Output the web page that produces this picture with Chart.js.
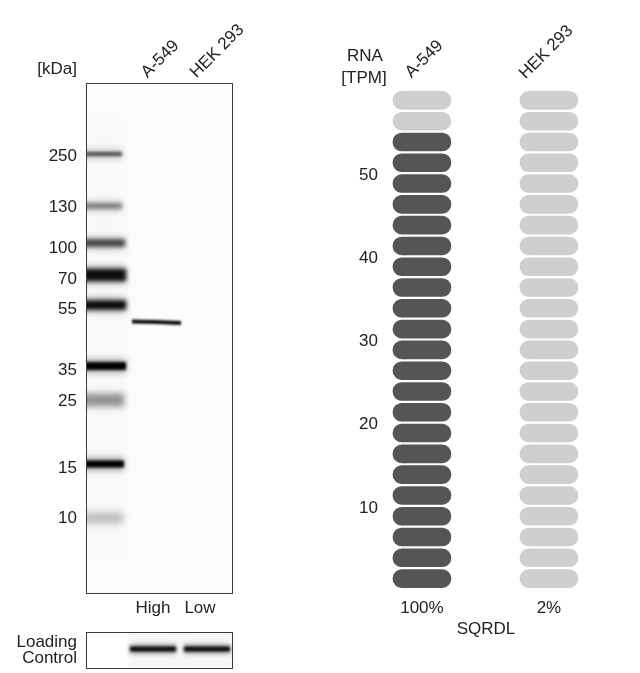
<!DOCTYPE html>
<html>
<head>
<meta charset="utf-8">
<style>
  body { margin: 0; background: #fff; }
  #page { position: relative; width: 640px; height: 673px; overflow: hidden; font: 17px "Liberation Sans", Arial, sans-serif; color: #222; }
  #page canvas { position: absolute; }
  .label { position: absolute; white-space: nowrap; transform: translate(-50%, -50%); }
  .slanted { transform: translate(-50%, -50%) rotate(-45deg); }
  .right { transform: translate(-100%, -50%); }
</style>
</head>
<body>
<div id="page">
  <canvas id="blot" width="240" height="630" style="left:0;top:0"></canvas>
  <canvas id="loading" width="240" height="40" style="left:0;top:630px"></canvas>
  <canvas id="rna" width="310" height="645" style="left:330px;top:0"></canvas>
</div>
<script src="https://cdn.jsdelivr.net/npm/chart.js@4"></script>
<script>
// western blot: positions are migration distance from the top of the membrane
const ladderKda = [250, 130, 100, 70, 55, 35, 25, 15, 10];
const ladderLabelPos = [72, 123, 164, 195, 225, 286, 317, 384, 434];
const ladderBandPos = [71, 123, 160, 192, 222, 283, 317, 381, 435];
const ladderSignal = [0.62, 0.48, 0.68, 0.92, 0.95, 1, 0.36, 1, 0.18];
const ladderBandEnd = [36, 36, 39, 40, 40, 40, 38, 38, 37];
const sampleBandX = [46, 70, 95];
const sampleBandPos = [238.5, 239, 240];
const laneNames = ['High', 'Low'];
const lanePos = [67, 114];
const loadingBandX = [[44, 90], [98, 144]];

// RNA panel
const cellLines = ['A-549', 'HEK 293'];
const rnaTpm = [55, 1];
const rnaPercent = ['100%', '2%'];
const rnaMaxTpm = 60;
const tpmPerPill = 2.5;
const geneName = 'SQRDL';

const ink = '#222';
const font = { family: '"Liberation Sans", Arial, sans-serif', size: 17 };
const thickness = [4, 5, 7, 12, 9, 8, 11, 7, 10];
const blur = [1.8, 2, 2, 2.2, 2, 1.8, 3, 1.8, 3];

function label(text, x, y, cls) {
  const el = document.createElement('div');
  el.className = 'label ' + (cls || '');
  el.textContent = text;
  el.style.left = x + 'px';
  el.style.top = y + 'px';
  document.getElementById('page').appendChild(el);
}

// soft bands and a thin frame round the membrane
const membrane = {
  id: 'membrane',
  beforeDraw(chart) {
    const a = chart.chartArea;
    chart.ctx.fillStyle = chart.options.plugins.membrane.fill;
    chart.ctx.fillRect(a.left, a.top, a.width, a.height);
  },
  beforeDatasetDraw(chart, args) {
    chart.ctx.save();
    chart.ctx.filter = 'blur(' + chart.data.datasets[args.index].blur + 'px)';
  },
  afterDatasetDraw(chart) {
    chart.ctx.restore();
  },
  afterDraw(chart) {
    const a = chart.chartArea, ctx = chart.ctx;
    ctx.strokeStyle = '#3a3a3a';
    ctx.lineWidth = 1;
    ctx.strokeRect(a.left + 0.5, a.top + 0.5, a.width, a.height);
  }
};

function band(points, signal, width, soft) {
  return {
    data: points,
    showLine: true,
    pointRadius: 0,
    borderColor: 'rgba(0,0,0,' + signal + ')',
    borderWidth: width,
    borderCapStyle: 'butt',
    blur: soft
  };
}

const blotBands = [band([{ x: 20, y: 30 }, { x: 20, y: 480 }], 0.015, 42, 9)];
ladderBandPos.forEach((pos, i) => {
  const points = [{ x: -6, y: pos }, { x: ladderBandEnd[i], y: pos }];
  blotBands.push(band(points, ladderSignal[i] * 0.3, thickness[i] + 6, 3));
  blotBands.push(band(points, ladderSignal[i], thickness[i], blur[i]));
});
blotBands.push(band(sampleBandX.map((x, i) => ({ x: x, y: sampleBandPos[i] })), 0.95, 4, 1.2));

new Chart(document.getElementById('blot'), {
  type: 'scatter',
  data: { datasets: blotBands },
  plugins: [membrane],
  options: {
    responsive: false,
    animation: false,
    layout: { padding: { top: 83, right: 8 } },
    plugins: { legend: { display: false }, tooltip: { enabled: false }, membrane: { fill: '#fcfcfc' } },
    scales: {
      x: {
        min: 0, max: 146,
        grid: { display: false, drawTicks: false },
        border: { display: false },
        afterBuildTicks: axis => { axis.ticks = lanePos.map(v => ({ value: v })); },
        afterFit: axis => { axis.height = 37; },
        ticks: {
          autoSkip: false, maxRotation: 0, padding: 5, color: ink, font: font,
          callback: v => laneNames[lanePos.indexOf(v)]
        }
      },
      y: {
        min: 0, max: 510, reverse: true,
        grid: { display: false, drawTicks: false },
        border: { display: false },
        afterBuildTicks: axis => { axis.ticks = ladderLabelPos.map(v => ({ value: v })); },
        afterFit: axis => { axis.width = 86; },
        ticks: {
          autoSkip: false, padding: 9, labelOffset: 1, color: ink, font: font,
          callback: v => ladderKda[ladderLabelPos.indexOf(v)]
        }
      }
    }
  }
});

const loadingBands = [band([{ x: 42, y: 18 }, { x: 160, y: 18 }], 0.03, 40, 1)];
loadingBandX.forEach(b => {
  const points = [{ x: b[0], y: 17 }, { x: b[1], y: 17 }];
  loadingBands.push(band(points, 0.3, 10, 2.5));
  loadingBands.push(band(points, 0.97, 5, 1.5));
});

new Chart(document.getElementById('loading'), {
  type: 'scatter',
  data: { datasets: loadingBands },
  plugins: [membrane],
  options: {
    responsive: false,
    animation: false,
    layout: { padding: { top: 2, right: 8, bottom: 2 } },
    plugins: { legend: { display: false }, tooltip: { enabled: false }, membrane: { fill: '#ffffff' } },
    scales: {
      x: { display: false, min: 0, max: 146 },
      y: {
        min: 0, max: 36, reverse: true,
        grid: { display: false, drawTicks: false },
        border: { display: false },
        afterFit: axis => { axis.width = 86; },
        ticks: { display: false }
      }
    }
  }
});

// one floating rounded bar per pill, dark up to the measured TPM
const pillDatasets = [];
for (let i = 0; i * tpmPerPill < rnaMaxTpm; i++) {
  const low = i * tpmPerPill;
  const high = low + tpmPerPill;
  pillDatasets.push({
    data: rnaTpm.map((_, c) => ({ x: c, y: [low + 0.17, high - 0.17] })),
    backgroundColor: rnaTpm.map(tpm => (high <= tpm ? '#555555' : '#cfcfcf')),
    borderWidth: 0,
    borderSkipped: false,
    borderRadius: 9,
    barThickness: 58,
    grouped: false
  });
}

new Chart(document.getElementById('rna'), {
  type: 'bar',
  data: { datasets: pillDatasets },
  options: {
    responsive: false,
    animation: false,
    layout: { padding: { top: 90, right: 53 } },
    plugins: { legend: { display: false }, tooltip: { enabled: false } },
    scales: {
      x: {
        type: 'linear',
        offset: false,
        min: -0.291, max: 1.3,
        grid: { display: false, drawTicks: false },
        border: { display: false },
        afterBuildTicks: axis => { axis.ticks = rnaTpm.map((_, i) => ({ value: i })); },
        afterFit: axis => { axis.height = 56; },
        ticks: { autoSkip: false, maxRotation: 0, padding: 9, color: ink, font: font, callback: v => rnaPercent[v] },
        title: { display: true, text: geneName, color: ink, font: font, padding: { top: 2, bottom: 5 } }
      },
      y: {
        min: 0, max: rnaMaxTpm,
        grid: { display: false, drawTicks: false },
        border: { display: false },
        afterBuildTicks: axis => { axis.ticks = [10, 20, 30, 40, 50].map(v => ({ value: v })); },
        afterFit: axis => { axis.width = 55; },
        ticks: { padding: 7, labelOffset: 2, color: ink, font: font }
      }
    }
  }
});

label('[kDa]', 77, 69, 'right');
label(cellLines[0], 160, 59, 'slanted');
label(cellLines[1], 217, 51, 'slanted');
label('Loading', 77, 642, 'right');
label('Control', 77, 658, 'right');
label('RNA', 365, 56);
label('[TPM]', 364, 78);
label(cellLines[0], 424, 59, 'slanted');
label(cellLines[1], 546, 52, 'slanted');
</script>
</body>
</html>
